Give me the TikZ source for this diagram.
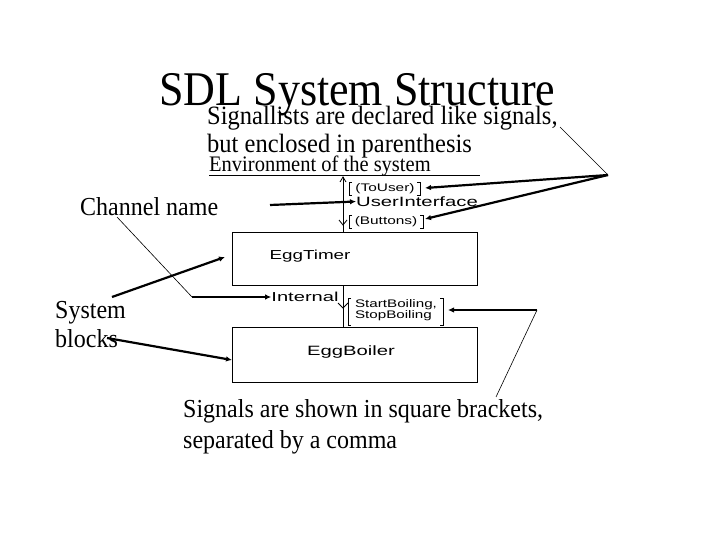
\documentclass[tikz,border=0pt]{standalone}
\usepackage{fontspec}
\usepackage{graphicx}
\setmainfont{Liberation Serif}
\newfontfamily\lblfont{Liberation Sans}
\usetikzlibrary{arrows.meta}
\newcommand\wide[2][1.5]{\scalebox{#1}[1]{#2}}
\newcommand\tall[1]{\scalebox{1}[1.08]{#1}}
\tikzset{
  serif/.style={inner sep=0pt, anchor=base west},
  lbl/.style={inner sep=0pt, font=\lblfont\fontsize{13.5}{14}\selectfont},
  smlbl/.style={inner sep=0pt, font=\lblfont\fontsize{11}{10}\selectfont, align=left},
  block/.style={draw, line width=0.8pt},
  chan/.style={line width=0.8pt},
  thinl/.style={line width=0.6pt},
  thickarr/.style={line width=2.2pt, -{Latex[length=6pt,width=5.5pt]}},
  brk/.style={line width=0.7pt},
}
\begin{document}
\begin{tikzpicture}[x=1pt,y=-1pt]
\useasboundingbox (0,0) rectangle (720,540);
\fill[white] (0,0) rectangle (720,540);

% texts
\node[inner sep=0pt, anchor=base, font=\fontsize{44}{48}\selectfont] (title) at (357.5,106) {\scalebox{1}[1.1]{SDL System Structure}};
\node[serif, font=\fontsize{24.5}{28}\selectfont] (sig1) at (207,125) {\tall{Signallists are declared like signals,}};
\node[serif, font=\fontsize{24.5}{28}\selectfont] (sig2) at (207,153) {\tall{but enclosed in parenthesis}};
\node[serif, font=\fontsize{20.5}{22}\selectfont] (env) at (209,172) {\tall{Environment of the system}};
\node[serif, font=\fontsize{24}{28}\selectfont] (chname) at (80,215) {\tall{Channel name}};
\node[serif, font=\fontsize{24}{28}\selectfont] (sys1) at (55,318) {\tall{System}};
\node[serif, font=\fontsize{24}{28}\selectfont] (sys2) at (55,347) {\tall{blocks}};
\node[serif, font=\fontsize{24}{28}\selectfont] (sigs1) at (183,417) {\tall{Signals are shown in square brackets,}};
\node[serif, font=\fontsize{24}{28}\selectfont] (sigs2) at (183,448) {\tall{separated by a comma}};

% environment underline
\coordinate (ul1) at (209,175);
\coordinate (ul2) at (480,175);
\draw[line width=0.7pt] (ul1) -- (ul2);

% blocks
\node[block, minimum width=245pt, minimum height=53pt, inner sep=0pt] (timer) at (354.5,258.5) {};
\node[block, minimum width=245pt, minimum height=55pt, inner sep=0pt] (boiler) at (354.5,354.5) {};
\node[lbl, font=\lblfont\fontsize{13}{14}\selectfont] (timerl) at (310,256) {\wide[1.45]{EggTimer}};
\node[lbl] (boilerl) at (351,352) {\wide{EggBoiler}};

% channel UserInterface
\coordinate (cTop) at (343,177);
\draw[chan] (cTop) -- (timer.north -| cTop);
\draw[chan] (340,182) -- (cTop) -- (346,182);
\draw[chan] (339,220) -- (343,225) -- (347,220);
% channel Internal
\coordinate (iTop) at (343,285);
\coordinate (iBot) at (343,327);
\draw[chan] (iTop) -- (iBot);
\draw[chan] (338,303) -- (343,308) -- (348,303);

% channel labels
\node[smlbl] (touser) at (385,188.5) {\wide[1.4]{(ToUser)}};
\node[lbl] (ui) at (417,201.5) {\wide{UserInterface}};
\node[smlbl] (buttons) at (386,221.5) {\wide[1.4]{(Buttons)}};
\node[lbl, font=\lblfont\fontsize{13}{14}\selectfont] (internal) at (305,297) {\wide[1.55]{Internal}};
\node[smlbl] (startstop) at (396,310) {\wide[1.38]{StartBoiling,}\\[-0.5pt]\wide[1.38]{StopBoiling}};

% brackets
\draw[brk] (352,182) -- (349,182) -- (349,195) -- (352,195);
\draw[brk] (417,182) -- (420,182) -- (420,195) -- (417,195);
\draw[brk] (352,215) -- (349,215) -- (349,228) -- (352,228);
\draw[brk] (420,215) -- (423,215) -- (423,228) -- (420,228);
\draw[brk] (351,298) -- (348,298) -- (348,325) -- (351,325);
\draw[brk] (440,298) -- (443,298) -- (443,325) -- (440,325);

% annotation connectors
\coordinate (chA) at (117,217);
\coordinate (chB) at (192,297);
\coordinate (chC) at (270,205);
\draw[thinl] (chA) -- (chB);
\draw[thickarr] (chB) -- (internal.west);
\draw[thickarr] (chC) -- (ui.west);

\coordinate (sbA) at (112,297);
\coordinate (sbB) at (107,338);
\draw[thickarr] (sbA) -- (225,257);
\draw[thickarr] (sbB) -- (232,360);

\coordinate (slA) at (560,127);
\coordinate (slB) at (608,175);
\draw[thinl] (slA) -- (slB);
\draw[thickarr] (slB) -- (425,188);
\draw[thickarr] (slB) -- (425,219);

\coordinate (sqA) at (496,397);
\coordinate (sqB) at (537,310);
\draw[thinl] (sqA) -- (sqB);
\draw[thickarr] (sqB) -- (448,310);
\end{tikzpicture}
\end{document}
